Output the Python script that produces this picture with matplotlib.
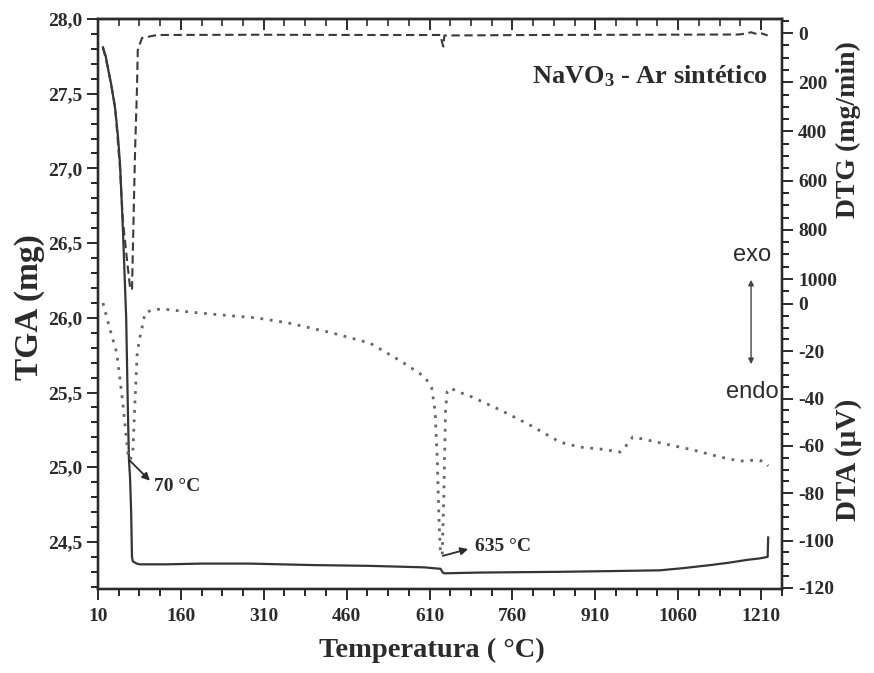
import matplotlib
matplotlib.use("Agg")
import matplotlib.pyplot as plt
from matplotlib.ticker import FixedLocator, FuncFormatter

# TGA curve (mg)
tga_temp = [19, 24, 28, 34, 41, 46, 50, 55, 61, 64, 66, 68, 70, 71.5, 73, 80, 86, 135, 195, 285,
            400, 500, 600, 630, 634, 637, 700, 846, 940, 1027, 1070, 1118, 1150, 1185, 1208,
            1222, 1223]
tga_mass = [27.81, 27.75, 27.67, 27.56, 27.40, 27.22, 27.02, 26.60, 26.00, 25.40, 25.05, 24.93,
            24.70, 24.40, 24.37, 24.355, 24.35, 24.35, 24.355, 24.355, 24.345, 24.34, 24.33,
            24.32, 24.295, 24.29, 24.295, 24.30, 24.305, 24.31, 24.325, 24.345, 24.36, 24.38,
            24.39, 24.40, 24.53]

# DTG curve (mg/min), positive downwards
dtg_temp = [19, 28, 41, 50, 55, 62.5, 68, 71.5, 73, 77, 80.6, 82, 89.6, 117, 300, 500,
            630, 633, 635, 637, 800, 1000, 1170, 1182, 1192, 1202, 1212, 1222]
dtg_rate = [60, 140, 300, 557, 760, 923, 1033, 1045, 894, 488, 220, 69, 20, 8, 7, 8,
            8, 40, 55, 10, 8, 7, 6, 2, -3, 4, 2, 10]

# DTA curve (µV)
dta_temp = [19, 32, 44, 55, 64, 68, 73, 77, 81, 86, 90, 95, 108, 126, 176, 236, 298, 354,
            430, 502, 557, 590, 602, 614, 620, 624, 627, 630, 633, 636, 639, 642, 648,
            660, 683, 738, 792, 846, 882, 919, 955, 967, 978, 1004, 1045, 1087, 1136,
            1172, 1203, 1215, 1223]
dta_signal = [0.4, -11, -20.7, -42, -63, -66, -63, -40.6, -20.7, -14, -9.7, -3.8, -2.5, -2.1,
              -3.4, -4.7, -5.9, -8, -12, -16.5, -24, -29, -31, -35.5, -45, -65, -90, -106,
              -106, -80, -45, -37, -35.5, -37, -38.9, -44.8, -51.2, -58.4, -60.5, -61.3,
              -62.6, -59.6, -56.2, -57.5, -59.6, -61.7, -64.7, -66.4, -66.0, -66.5, -68.5]

tga_ticks = [24.5, 25.0, 25.5, 26.0, 26.5, 27.0, 27.5, 28.0]
dtg_ticks = [0, 200, 400, 600, 800, 1000]
dta_ticks = [0, -20, -40, -60, -80, -100, -120]
temp_ticks = [10, 160, 310, 460, 610, 760, 910, 1060, 1210]
temp_minor = [10 + 37.5 * i for i in range(34)]

plt.rcParams["font.family"] = ["Liberation Serif", "DejaVu Serif"]
plt.rcParams["font.weight"] = "bold"
plt.rcParams["axes.unicode_minus"] = False
plt.rcParams["mathtext.fontset"] = "custom"
plt.rcParams["mathtext.rm"] = "Liberation Serif:bold"
plt.rcParams["mathtext.it"] = "Liberation Serif:bold"
plt.rcParams["mathtext.bf"] = "Liberation Serif:bold"

W, H = 874, 673
fig = plt.figure(figsize=(W / 100, H / 100), dpi=100)
ax = fig.add_axes([98 / W, 1 - 589 / H, (782 - 98) / W, (589 - 19) / H])
ax_dtg = ax.twinx()
ax_dta = ax.twinx()

ink = "#2b2b2b"
for a in (ax, ax_dtg, ax_dta):
    for s in a.spines.values():
        s.set_linewidth(1.6)
        s.set_color(ink)
    a.tick_params(colors=ink, labelsize=14, width=1.4)

# TGA on the left axis
ax.plot(tga_temp, tga_mass, color="#353535", lw=1.6, zorder=3)
ax.set_xlim(10, 1248)
ax.set_ylim(24.185, 28.0)
ax.xaxis.set_major_locator(FixedLocator(temp_ticks))
ax.xaxis.set_minor_locator(FixedLocator(temp_minor))
ax.yaxis.set_major_locator(FixedLocator(tga_ticks))
ax.yaxis.set_minor_locator(FixedLocator([24.2 + 0.1 * i for i in range(39)]))
ax.yaxis.set_major_formatter(FuncFormatter(lambda v, p: f"{v:.1f}".replace(".", ",")))
ax.tick_params(axis="x", which="both", direction="out", pad=6)
ax.tick_params(axis="x", which="major", length=8)
ax.tick_params(axis="x", which="minor", length=5, width=1.2)
ax.tick_params(axis="y", which="major", direction="out", length=8)
ax.tick_params(axis="y", which="minor", direction="out", length=5, width=1.2)

# top ticks pointing inwards
top = ax.secondary_xaxis("top")
top.xaxis.set_major_locator(FixedLocator(temp_ticks))
top.xaxis.set_minor_locator(FixedLocator(temp_minor))
top.tick_params(which="both", direction="in", labeltop=False, colors=ink, width=1.4)
top.tick_params(which="major", length=8)
top.tick_params(which="minor", length=5, width=1.2)
top.spines["top"].set_linewidth(1.6)

# DTG on the upper part of the right axis
ax_dtg.plot(dtg_temp, dtg_rate, color="#3a3a3a", lw=1.5, linestyle=(0, (4, 2.2)), zorder=3)
ax_dtg.set_ylim(2260, -57)
ax_dtg.yaxis.set_major_locator(FixedLocator(dtg_ticks))
ax_dtg.yaxis.set_minor_locator(FixedLocator(list(range(-50, 1051, 50))))
ax_dtg.tick_params(axis="y", which="major", direction="out", length=8)
ax_dtg.tick_params(axis="y", which="minor", direction="out", length=5, width=1.2)

# DTA on the lower part of the right axis
ax_dta.plot(dta_temp, dta_signal, color="#666666", lw=2.0, linestyle=(0, (1, 2.4)), zorder=3)
ax_dta.set_ylim(-120.5, 120.5)
ax_dta.yaxis.set_major_locator(FixedLocator(dta_ticks))
ax_dta.yaxis.set_minor_locator(FixedLocator(list(range(-120, 0, 5))))
ax_dta.tick_params(axis="y", which="major", direction="out", length=8)
ax_dta.tick_params(axis="y", which="minor", direction="out", length=5, width=1.2)

# axis titles
fig.text(30 / W, 1 - 307 / H, "TGA (mg)", rotation=90, ha="center", va="center",
         fontsize=24, color=ink)
fig.text(848 / W, 1 - 130 / H, "DTG (mg/min)", rotation=90, ha="center", va="center",
         fontsize=20, color=ink)
fig.text(848 / W, 1 - 460 / H, "DTA (µV)", rotation=90, ha="center", va="center",
         fontsize=21, color=ink)
fig.text(432 / W, 1 - 650 / H, "Temperatura ( °C)", ha="center", va="center",
         fontsize=20.5, color=ink)

# annotations
ax.text(1009, 27.62, "NaVO$_3$ - Ar sintético", ha="center", va="center", fontsize=19,
        color=ink)
ax_dta.text(1194, 20.7, "exo", ha="center", va="center", fontsize=17,
            family="Liberation Sans", weight="normal", color=ink)
ax_dta.text(1194, -37.2, "endo", ha="center", va="center", fontsize=17,
            family="Liberation Sans", weight="normal", color=ink)
ax_dta.annotate("", xy=(1192, 11.4), xytext=(1192, -26.6),
                arrowprops=dict(arrowstyle="<|-|>", color="#444444", lw=1.0,
                                mutation_scale=8))
ax.annotate("", xy=(104, 24.91), xytext=(66, 25.05),
            arrowprops=dict(arrowstyle="-|>", color=ink, lw=1.3, mutation_scale=11,
                            shrinkA=0, shrinkB=0))
ax.text(112, 24.87, "70 °C", fontsize=14, color=ink, va="center")
ax_dta.annotate("", xy=(680, -103.6), xytext=(634, -106.5),
                arrowprops=dict(arrowstyle="-|>", color=ink, lw=1.3, mutation_scale=11,
                                shrinkA=0, shrinkB=0))
ax_dta.text(692, -102.7, "635 °C", fontsize=14, color=ink, va="center")

fig.savefig("out.png", dpi=100)
